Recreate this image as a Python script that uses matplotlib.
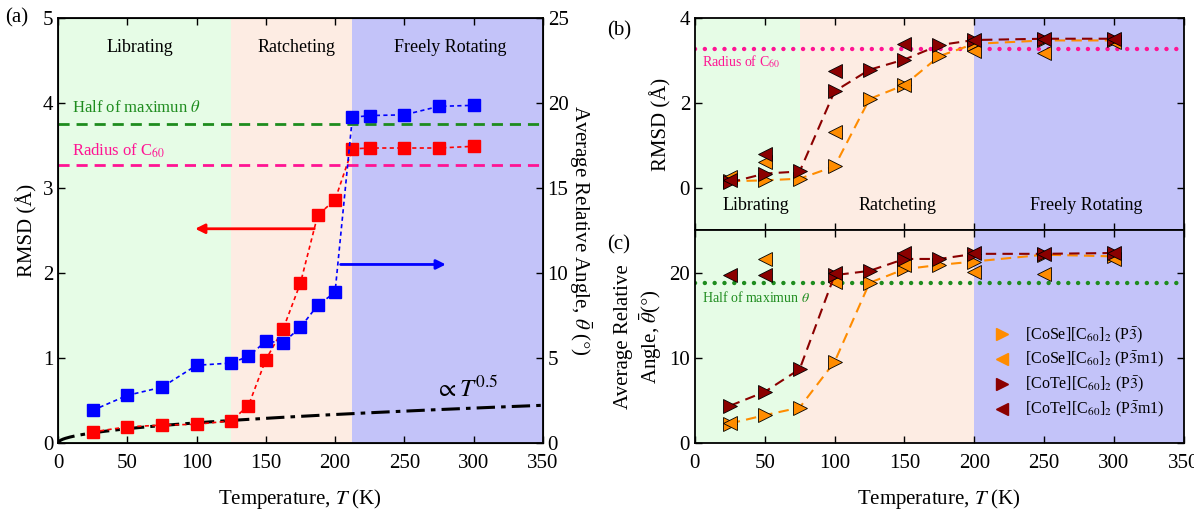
import matplotlib
matplotlib.use("Agg")
import matplotlib.pyplot as plt
import numpy as np

plt.rcParams['font.family'] = ['Liberation Serif', 'DejaVu Serif']
plt.rcParams['mathtext.fontset'] = 'stix'
plt.rcParams['xtick.direction'] = 'in'
plt.rcParams['ytick.direction'] = 'in'

# ---- panel (a) data ----
temp_a = [25, 50, 75, 100, 125, 137.5, 150, 162.5, 175, 187.5, 200, 212.5, 225, 250, 275, 300]
rmsd_a = [0.13, 0.19, 0.21, 0.22, 0.26, 0.44, 0.98, 1.34, 1.88, 2.68, 2.86, 3.46, 3.47, 3.47, 3.47, 3.49]
angle_a = [1.92, 2.8, 3.28, 4.57, 4.7, 5.1, 5.98, 5.9, 6.8, 8.1, 8.86, 19.15, 19.26, 19.3, 19.8, 19.86]
fit_coef = 0.0237  # RMSD ~ c * T^0.5
half_max_theta = 18.78
radius_c60 = 3.27

# ---- panels (b), (c) data ----
temp_p3 = [25, 50, 75, 100, 125, 150, 175, 200, 250, 300]
temp_p3m1 = [25, 50, 100, 150, 200, 250, 300]

rmsd_cose_p3 = [0.15, 0.17, 0.21, 0.50, 2.09, 2.42, 3.10, 3.39, 3.47, 3.47]
rmsd_cose_p3m1 = [0.25, 0.60, 1.31, 2.42, 3.23, 3.17, 3.43]
rmsd_cote_p3 = [0.12, 0.33, 0.38, 2.27, 2.78, 3.02, 3.36, 3.48, 3.51, 3.51]
rmsd_cote_p3m1 = [0.18, 0.80, 2.74, 3.39, 3.47, 3.51, 3.51]

ang_cose_p3 = [2.28, 3.26, 4.16, 9.53, 18.8, 20.4, 20.9, 21.3, 22.1, 21.9]
ang_cose_p3m1 = [2.3, 21.6, 18.9, 20.9, 20.05, 19.8, 21.6]
ang_cote_p3 = [4.36, 6.0, 8.67, 19.7, 20.2, 21.6, 21.6, 22.2, 22.2, 22.3]
ang_cote_p3m1 = [19.7, 19.7, 19.9, 22.3, 22.3, 22.2, 22.3]

labels = [r'[CoSe][C$_{60}$]$_2$ (P$\bar{3}$)', r'[CoSe][C$_{60}$]$_2$ (P$\bar{3}$m1)',
          r'[CoTe][C$_{60}$]$_2$ (P$\bar{3}$)', r'[CoTe][C$_{60}$]$_2$ (P$\bar{3}$m1)']

c_green = '#e6fce6'
c_peach = '#fdece3'
c_blue = '#c3c3f9'
orange = '#ff8c00'
dred = '#8b0000'

fig = plt.figure(figsize=(11.94, 5.13), dpi=100)

# ================= (a) =================
ax = fig.add_axes([0.0486, 0.1365, 0.406, 0.8285])
ax.axvspan(0, 125, color=c_green, lw=0)
ax.axvspan(125, 212, color=c_peach, lw=0)
ax.axvspan(212, 350, color=c_blue, lw=0)
ax.set_xlim(0, 350)
ax.set_ylim(0, 5)
ax.set_xticks(range(0, 351, 50))
ax.set_yticks(range(0, 6))
ax.tick_params(labelsize=15, length=5, width=1, top=True)
ax.tick_params(axis='x', pad=8)
for s in ax.spines.values():
    s.set_linewidth(1.3)

tt = np.linspace(0, 350, 200)
ax.plot(tt, fit_coef * np.sqrt(tt), color='black', ls=(0, (6, 2, 1.5, 2)), lw=2.2)
ax.plot(temp_a, rmsd_a, color='red', ls=(0, (2.5, 2)), lw=1.2, marker='s', ms=8, mec='red', zorder=3)
ax.axhline(radius_c60, color='#ff1493', ls=(0, (4, 2.5)), lw=2)

ax.text(59, 4.65, 'Librating', fontsize=13, ha='center', va='center')
ax.text(172, 4.65, 'Ratcheting', fontsize=13, ha='center', va='center')
ax.text(283, 4.65, 'Freely Rotating', fontsize=13, ha='center', va='center')
ax.text(10, 3.94, r'Half of maximun $\theta$', fontsize=12, color='#1e8c1e', va='center')
ax.text(10, 3.44, r'Radius of C$_{60}$', fontsize=12, color='#ff1493', va='center')
ax.text(272, 0.63, r'$\propto T^{0.5}$', fontsize=18, va='center')

ax.annotate('', xy=(97, 2.52), xytext=(187, 2.52),
            arrowprops=dict(arrowstyle='-|>', color='red', lw=2, mutation_scale=14))
ax.annotate('', xy=(282, 2.10), xytext=(202, 2.10),
            arrowprops=dict(arrowstyle='-|>', color='blue', lw=2, mutation_scale=14))

ax.set_xlabel(r'Temperature, $T$ (K)', fontsize=15, labelpad=10)
ax.set_ylabel('RMSD (Å)', fontsize=15, labelpad=4)
ax.text(-0.11, 1.0, '(a)', transform=ax.transAxes, fontsize=15, va='center', ha='left')

ax2 = ax.twinx()
ax2.set_ylim(0, 25)
ax2.set_yticks(range(0, 26, 5))
ax2.tick_params(labelsize=15, length=5, width=1)
ax2.plot(temp_a, angle_a, color='blue', ls=(0, (2.5, 2)), lw=1.2, marker='s', ms=8, mec='blue', zorder=3)
ax2.axhline(half_max_theta, color='#1e8c1e', ls=(0, (4, 2.5)), lw=2)
ax2.set_ylabel(r'Average Relative Angle, $\bar{\theta}$ ($\degree$)', fontsize=15, rotation=270, labelpad=18)

# ================= (b) =================
axb = fig.add_axes([0.582, 0.5517, 0.4095, 0.4133])
axc = fig.add_axes([0.582, 0.1365, 0.4095, 0.4152])
for a in (axb, axc):
    a.axvspan(0, 75, color=c_green, lw=0)
    a.axvspan(75, 200, color=c_peach, lw=0)
    a.axvspan(200, 350, color=c_blue, lw=0)
    a.set_xlim(0, 350)
    a.set_xticks(range(0, 351, 50))
    a.tick_params(labelsize=15, length=5, width=1, top=True, right=True)
    for s in a.spines.values():
        s.set_linewidth(1.3)

mk = dict(ms=10, mec='black', mew=0.6, zorder=3)
dotted = dict(ls=(0, (0.01, 2.2)), lw=3.2, dash_capstyle='round')
axb.plot(temp_p3, rmsd_cose_p3, color=orange, ls=(0, (5, 3)), lw=1.5, marker='>', **mk)
axb.plot(temp_p3m1, rmsd_cose_p3m1, color=orange, ls='none', marker='<', **mk)
axb.plot(temp_p3, rmsd_cote_p3, color=dred, ls=(0, (5, 3)), lw=1.5, marker='>', **mk)
axb.plot(temp_p3m1, rmsd_cote_p3m1, color=dred, ls='none', marker='<', **mk)
axb.axhline(radius_c60, color='#ff1493', **dotted)
axb.set_ylim(-1, 4)
axb.set_yticks([0, 2, 4])
axb.tick_params(labelbottom=False)
axb.text(5, 2.97, r'Radius of C$_{60}$', fontsize=10, color='#ff1493', va='center')
axb.text(44, -0.42, 'Librating', fontsize=13, ha='center', va='center')
axb.text(145, -0.42, 'Ratcheting', fontsize=13, ha='center', va='center')
axb.text(280, -0.42, 'Freely Rotating', fontsize=13, ha='center', va='center')
axb.set_ylabel('RMSD (Å)', fontsize=15, labelpad=6)
axb.text(-0.18, 0.94, '(b)', transform=axb.transAxes, fontsize=15, va='center')

# ================= (c) =================
axc.plot(temp_p3, ang_cose_p3, color=orange, ls=(0, (5, 3)), lw=1.5, marker='>', label=labels[0], **mk)
axc.plot(temp_p3m1, ang_cose_p3m1, color=orange, ls='none', marker='<', label=labels[1], **mk)
axc.plot(temp_p3, ang_cote_p3, color=dred, ls=(0, (5, 3)), lw=1.5, marker='>', label=labels[2], **mk)
axc.plot(temp_p3m1, ang_cote_p3m1, color=dred, ls='none', marker='<', label=labels[3], **mk)
axc.axhline(half_max_theta, color='#1e8c1e', **dotted)
axc.set_ylim(0, 25)
axc.set_yticks([0, 10, 20])
axc.tick_params(axis='x', pad=8)
axc.text(5, 17.1, r'Half of maximun $\theta$', fontsize=10, color='#1e8c1e', va='center')
axc.set_ylabel('Average Relative\n' + r'Angle, $\bar{\theta}$($\degree$)', fontsize=15, labelpad=4)
axc.set_xlabel(r'Temperature, $T$ (K)', fontsize=15, labelpad=10)
axc.text(-0.18, 0.93, '(c)', transform=axc.transAxes, fontsize=15, va='center')

handles, labs = axc.get_legend_handles_labels()
leg = axc.legend([plt.Line2D([], [], ls='none', marker=h.get_marker(), color=h.get_color(), ms=9)
                  for h in handles], labs, loc='lower left', bbox_to_anchor=(0.565, 0.04),
                 frameon=False, fontsize=11.5, handletextpad=0.5, labelspacing=0.3)

fig.savefig('out.png', dpi=100)
